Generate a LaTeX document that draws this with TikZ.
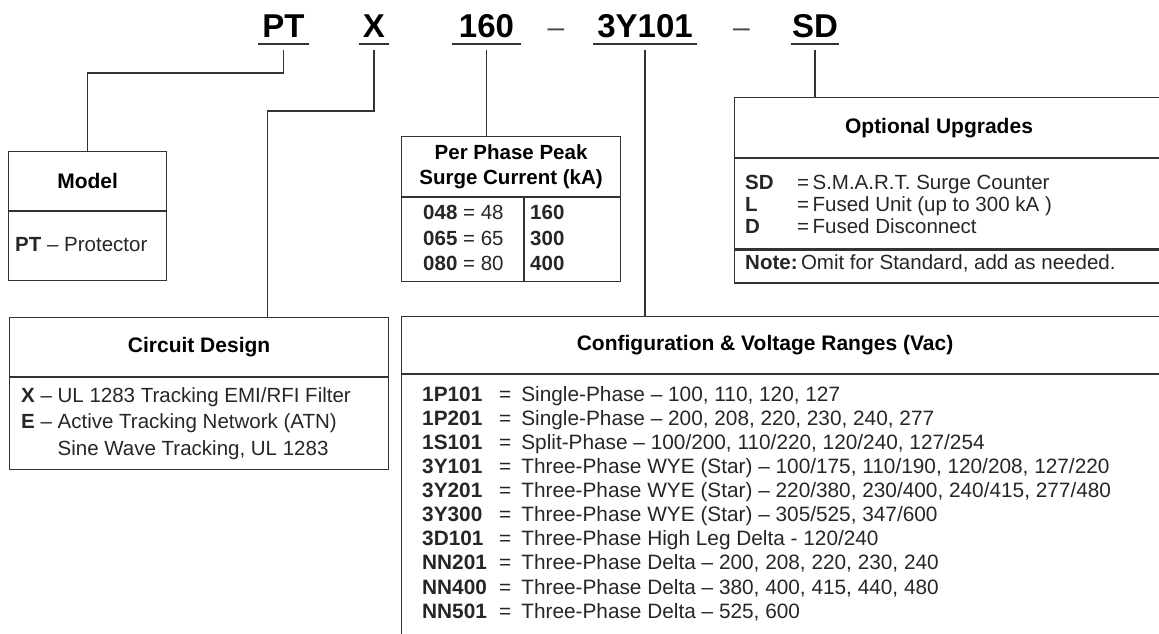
\documentclass[tikz,border=0pt]{standalone}
\usepackage{fontspec}
\setmainfont{Liberation Sans}
\usetikzlibrary{positioning}

% one row of a code list: bold code, then = and the meaning
\newcommand{\cfgrow}[2]{\makebox[77pt][l]{\textbf{#1}}=\hspace{10pt}#2}
\newcommand{\optrow}[2]{\makebox[52pt][l]{\textbf{#1}}=\,#2}

\tikzset{
  wire/.style={draw=black!80, line width=1.2pt},
  codehead/.style={font=\fontsize{33}{36}\selectfont\bfseries, anchor=base, inner xsep=4pt, inner ysep=0pt, text depth=0pt},
  codedash/.style={font=\fontsize{30}{36}\selectfont, anchor=base, text=black!70},
  boxpart/.style={draw=black!80, line width=1.2pt, inner sep=0pt, anchor=north west},
  boxtitle/.style={font=\fontsize{21}{25}\selectfont\bfseries, align=center},
  boxtext/.style={font=\fontsize{20.5}{26.5}\selectfont, align=left, anchor=west, inner sep=0pt, text=black!85},
}

\begin{document}
\begin{tikzpicture}[x=1pt,y=-1pt]
  \path[use as bounding box, clip] (0,0) rectangle (1159,634);

  % Bestellcode oben
  \node[codehead] (hpt) at (283.5,38) {PT};
  \node[codehead] (hx) at (374,38) {X};
  \node[codehead, inner xsep=7pt] (h160) at (486.5,38) {160};
  \node[codedash] (hd1) at (556,38) {–};
  \node[codehead] (hcfg) at (645,38) {3Y101};
  \node[codedash] (hd2) at (741.5,38) {–};
  \node[codehead, inner xsep=1pt] (hsd) at (815,38) {SD};
  % Unterstriche
  \draw[wire] ([yshift=-6pt]hpt.base west) -- ([yshift=-6pt]hpt.base east);
  \draw[wire] ([yshift=-6pt]hx.base west) -- ([yshift=-6pt]hx.base east);
  \draw[wire] ([yshift=-6pt]h160.base west) -- ([yshift=-6pt]h160.base east);
  \draw[wire] ([yshift=-6pt]hcfg.base west) -- ([yshift=-6pt]hcfg.base east);
  \draw[wire] ([yshift=-6pt]hsd.base west) -- ([yshift=-6pt]hsd.base east);

  % Model
  \node[boxpart, boxtitle, minimum width=158pt, minimum height=59pt] (modelhead) at (8,151) {Model};
  \node[boxpart, minimum width=158pt, minimum height=69pt, anchor=north] (modelbody) at (modelhead.south) {};
  \node[boxtext] (modeltxt) at (15,245) {\textbf{PT} – Protector};

  % Circuit Design
  \node[boxpart, boxtitle, minimum width=379pt, minimum height=59pt] (circhead) at (9,317) {Circuit Design};
  \node[boxpart, minimum width=379pt, minimum height=92pt, anchor=north] (circbody) at (circhead.south) {};
  \node[boxtext] (circtxt) at (21,423.5) {\textbf{X} – UL 1283 Tracking EMI/RFI Filter\\
    \textbf{E} – Active Tracking Network (ATN)\\
    \phantom{\textbf{E} – }Sine Wave Tracking, UL 1283};

  % Surge Current
  \node[boxpart, boxtitle, font=\fontsize{20.5}{25}\selectfont\bfseries, minimum width=219pt, minimum height=60pt] (surgehead) at (401,136) {Per Phase Peak\\Surge Current (kA)};
  \node[boxpart, minimum width=219pt, minimum height=84pt, anchor=north] (surgebody) at (surgehead.south) {};
  \coordinate (colx) at (524,0);
  \draw[wire] (surgebody.north -| colx) -- (surgebody.south -| colx);
  \node[boxtext, font=\fontsize{20.5}{25.5}\selectfont] (surgeleft) at (423,238) {\textbf{048} = 48\\\textbf{065} = 65\\\textbf{080} = 80};
  \node[boxtext, font=\fontsize{20.5}{25.5}\selectfont] (surgeright) at (530,238) {\textbf{160}\\\textbf{300}\\\textbf{400}};

  % Optional Upgrades
  \node[boxpart, minimum width=440pt, minimum height=60pt] (opthead) at (734,97) {};
  \node[boxtitle] (opttitle) at (939,128) {Optional Upgrades};
  \node[boxpart, minimum width=440pt, minimum height=90pt, anchor=north] (optbody) at (opthead.south) {};
  \node[boxpart, minimum width=440pt, minimum height=33pt, anchor=north] (optnote) at (optbody.south) {};
  \node[boxtext, font=\fontsize{20.5}{22}\selectfont] (opttxt) at (745,204) {\optrow{SD}{S.M.A.R.T. Surge Counter}\\
    \optrow{L}{Fused Unit (up to 300 kA )}\\
    \optrow{D}{Fused Disconnect}};
  \node[boxtext] (notetxt) at (745,263.5) {\textbf{Note:}\,Omit for Standard, add as needed.};

  % Configuration
  \node[boxpart, minimum width=780pt, minimum height=57pt] (cfghead) at (401,316) {};
  \node[boxtitle] (cfgtitle) at (765,345) {Configuration \& Voltage Ranges (Vac)};
  \node[boxpart, minimum width=780pt, minimum height=300pt, anchor=north] (cfgbody) at (cfghead.south) {};
  \node[boxtext, font=\fontsize{20.8}{24.1}\selectfont] (cfgtxt) at (422,503.5) {%
    \cfgrow{1P101}{Single-Phase – 100, 110, 120, 127}\\
    \cfgrow{1P201}{Single-Phase – 200, 208, 220, 230, 240, 277}\\
    \cfgrow{1S101}{Split-Phase – 100/200, 110/220, 120/240, 127/254}\\
    \cfgrow{3Y101}{Three-Phase WYE (Star) – 100/175, 110/190, 120/208, 127/220}\\
    \cfgrow{3Y201}{Three-Phase WYE (Star) – 220/380, 230/400, 240/415, 277/480}\\
    \cfgrow{3Y300}{Three-Phase WYE (Star) – 305/525, 347/600}\\
    \cfgrow{3D101}{Three-Phase High Leg Delta - 120/240}\\
    \cfgrow{NN201}{Three-Phase Delta – 200, 208, 220, 230, 240}\\
    \cfgrow{NN400}{Three-Phase Delta – 380, 400, 415, 440, 480}\\
    \cfgrow{NN501}{Three-Phase Delta – 525, 600}};

  % Verbindungen
  \draw[wire] ([yshift=-12pt]hpt.base) -- ++(0,23) -| (modelhead.north);
  \draw[wire] ([yshift=-12pt]hx.base) -- ++(0,61) -| ([xshift=68.5pt]circhead.north);
  \draw[wire] ([yshift=-12pt]h160.base) -- (h160.base |- surgehead.north);
  \draw[wire] ([yshift=-12pt]hcfg.base) -- (hcfg.base |- cfghead.north);
  \draw[wire] ([yshift=-12pt]hsd.base) -- (hsd.base |- opthead.north);
\end{tikzpicture}
\end{document}
